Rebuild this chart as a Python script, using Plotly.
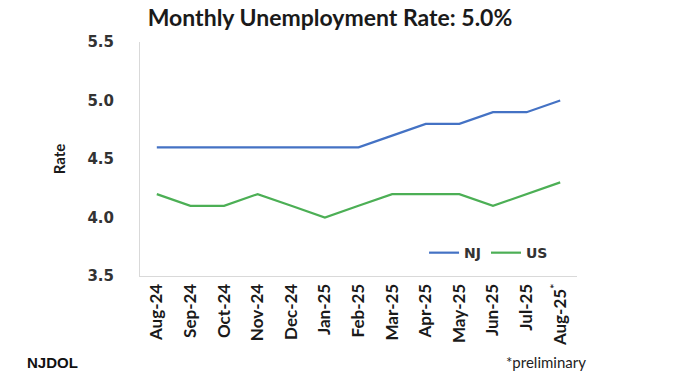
import plotly.graph_objects as go

months = ["Aug-24", "Sep-24", "Oct-24", "Nov-24", "Dec-24", "Jan-25", "Feb-25",
          "Mar-25", "Apr-25", "May-25", "Jun-25", "Jul-25", "Aug-25"]
tick_labels = months[:-1] + ["Aug-25<sup>*</sup>"]
nj = [4.6, 4.6, 4.6, 4.6, 4.6, 4.6, 4.6, 4.7, 4.8, 4.8, 4.9, 4.9, 5.0]
us = [4.2, 4.1, 4.1, 4.2, 4.1, 4.0, 4.1, 4.2, 4.2, 4.2, 4.1, 4.2, 4.3]
y_ticks = [3.5, 4.0, 4.5, 5.0, 5.5]

# page body has an 8px margin; layout is expressed in figure coordinates
L, T, R, B = 132, 34, 106, 112
W, H = 675, 380
pw, ph = W - L - R, H - T - B

fig = go.Figure()
fig.add_trace(go.Scatter(x=months, y=nj, name="NJ", mode="lines",
                         line=dict(color="#4472C4", width=2.2)))
fig.add_trace(go.Scatter(x=months, y=us, name="US", mode="lines",
                         line=dict(color="#4CAF55", width=2.2)))

fig.update_layout(
    width=W, height=H,
    margin=dict(l=L, r=R, t=T, b=B, autoexpand=False),
    paper_bgcolor="white", plot_bgcolor="white",
    title=dict(text="<b>Monthly Unemployment Rate: 5.0%</b>", x=322 / W, xanchor="center",
               y=1 - 10 / H, yanchor="middle",
               font=dict(family="Lato", size=23, color="#1a1a1a")),
    showlegend=True,
    legend=dict(orientation="h", x=0.65, y=0.098, xanchor="left", yanchor="middle",
                font=dict(family="DejaVu Sans", size=14, color="#333333", weight="bold"),
                bgcolor="rgba(0,0,0,0)", itemwidth=30, tracegroupgap=0),
    xaxis=dict(type="category", tickmode="array", tickvals=months, ticktext=tick_labels,
               range=[-0.5, 12.5],
               tickangle=-90, showgrid=False, showline=True, linecolor="#D9D9D9",
               linewidth=1, ticks="", zeroline=False, automargin=False,
               tickfont=dict(family="Lato", size=17, color="#1a1a1a", weight="bold")),
    yaxis=dict(range=[3.5, 5.5], tickmode="array", tickvals=y_ticks,
               ticktext=[f"{v:.1f}" for v in y_ticks], showgrid=False,
               showline=True, linecolor="#D9D9D9", linewidth=1, ticks="",
               ticklen=0, zeroline=False, automargin=False,
               title=dict(text="<b>Rate</b>", standoff=18,
                          font=dict(family="Lato", size=15, color="#1a1a1a")),
               tickfont=dict(family="DejaVu Sans", size=15, color="#333333", weight="bold")),
)
fig.update_yaxes(ticklabelstandoff=22)

fig.add_annotation(text="<b>NJDOL</b>", xref="paper", yref="paper",
                   x=(17 - L) / pw, y=-(354 - (H - B)) / ph,
                   xanchor="left", yanchor="middle", showarrow=False,
                   font=dict(family="Liberation Sans", size=15, color="#111111"))
fig.add_annotation(text="*preliminary", xref="paper", yref="paper",
                   x=(580 - L) / pw, y=-(354 - (H - B)) / ph,
                   xanchor="right", yanchor="middle", showarrow=False,
                   font=dict(family="Lato", size=15, color="#222222"))

fig.write_html("out.html")
